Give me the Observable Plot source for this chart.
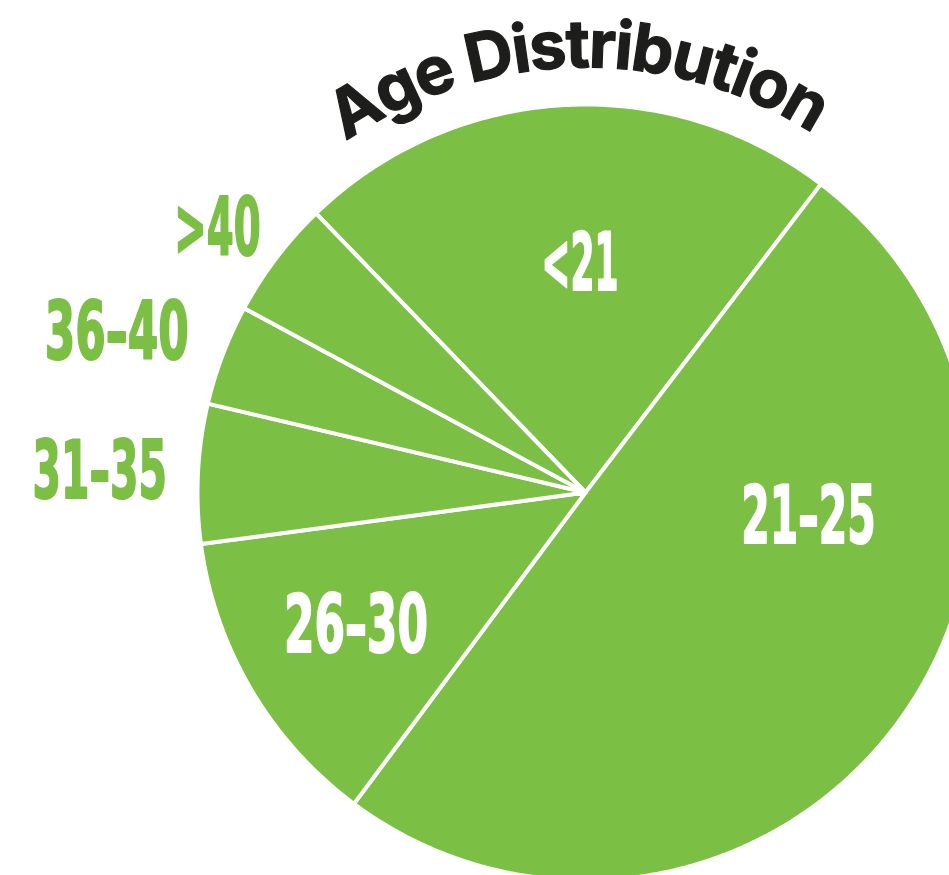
<!DOCTYPE html>
<html>
<head>
<meta charset="utf-8">
<script src="https://cdn.jsdelivr.net/npm/d3@7"></script>
<script src="https://cdn.jsdelivr.net/npm/@observablehq/plot@0.6"></script>
<style>
  html, body { margin: 0; padding: 0; background: #fff; }
  #chart svg { display: block; }
</style>
</head>
<body>
<div id="chart"></div>
<script>
// ---------- data ----------
const categories = ["<21", "21–25", "26–30", "31–35", "36–40", ">40"];
const shares = [22.6, 49.8, 12.7, 5.8, 4.2, 4.9];           // percent
const labelPlacement = ["inside", "inside", "inside", "outside", "outside", "outside"];
const title = "Age Distribution";

// ---------- layout / style ----------
const W = 949, H = 875;
const cx = 585, cy = 492, R = 388;                 // pie centre & radius in px
const green = "#7bbf44";
const ink = "#1d1d1b";
const startDeg = -44;                              // first slice boundary (clockwise from 12 o'clock)
const labelSize = 80;
const labelFont = `"Liberation Sans Narrow", "DejaVu Sans Condensed", "Liberation Sans", sans-serif`;
const glyphAdvance = {"1": 0.24};                  // em advances of the condensed display face
const defaultAdvance = 0.36;
// nudges (px) for label anchors, relative to slice mid-angle placement
const labelNudge = [[8, 4], [37, -115], [-29, 16], [0, 0], [-5, -10], [9, -10]];
const titleSize = 66;
const titleFont = `Inter, "DejaVu Sans", sans-serif`;
const titleRadiusPx = 425, titleFromDeg = -34.3, titleToDeg = 32.4;

const xDomain = [-cx / R, (W - cx) / R];
const yDomain = [-(H - cy) / R, cy / R];

// ---------- pie geometry (unit circle, y up) ----------
const a0 = startDeg * Math.PI / 180;
const arcs = d3.pie().sort(null).startAngle(a0).endAngle(a0 + 2 * Math.PI)(shares);

const slicePts = [];
arcs.forEach((a, i) => {
  const n = Math.max(2, Math.ceil((a.endAngle - a.startAngle) / (Math.PI / 360)));
  slicePts.push({cat: categories[i], x: 0, y: 0});
  for (let k = 0; k <= n; k++) {
    const t = a.startAngle + (a.endAngle - a.startAngle) * k / n;
    slicePts.push({cat: categories[i], x: Math.sin(t), y: Math.cos(t)});
  }
  slicePts.push({cat: categories[i], x: 0, y: 0});
});

const labels = arcs.map((a, i) => {
  const mid = (a.startAngle + a.endAngle) / 2;
  const r = labelPlacement[i] === "inside" ? 0.6 : 1.08;
  return {
    cat: categories[i],
    place: labelPlacement[i],
    x: r * Math.sin(mid) + labelNudge[i][0] / R,
    y: r * Math.cos(mid) - labelNudge[i][1] / R
  };
});

// ---------- curved title letters ----------
const ctx = document.createElement("canvas").getContext("2d");
ctx.font = `700 ${titleSize}px ${titleFont}`;
const chars = [...title];
const widths = chars.map(c => ctx.measureText(c).width);
const arcLen = (titleToDeg - titleFromDeg) * Math.PI / 180 * titleRadiusPx;
const spacing = (arcLen - d3.sum(widths)) / (chars.length - 1);
let s = 0;
const titleLetters = chars.map((c, i) => {
  const sc = s + widths[i] / 2;
  s += widths[i] + spacing;
  const th = titleFromDeg * Math.PI / 180 + sc / titleRadiusPx;
  const rb = titleRadiusPx / R;
  return {ch: c, x: rb * Math.sin(th), y: rb * Math.cos(th), rot: th * 180 / Math.PI};
});

// ---------- plot ----------
const chart = Plot.plot({
  width: W,
  height: H,
  margin: 0,
  x: {domain: xDomain, axis: null},
  y: {domain: yDomain, axis: null},
  style: {background: "#fff", overflow: "visible"},
  marks: [
    Plot.line(slicePts, {
      x: "x", y: "y", z: "cat",
      fill: green, stroke: "#fff", strokeWidth: 4, strokeLinejoin: "round"
    }),
    Plot.text(labels.filter(d => d.place === "inside"), {
      x: "x", y: "y", text: "cat",
      textAnchor: "middle", lineAnchor: "middle",
      fill: "#fff", stroke: "#fff", strokeWidth: 2,
      fontSize: labelSize, fontWeight: 700, fontFamily: labelFont
    }),
    Plot.text(labels.filter(d => d.place === "outside"), {
      x: "x", y: "y", text: "cat",
      textAnchor: "end", lineAnchor: "middle",
      fill: green, stroke: green, strokeWidth: 2,
      fontSize: labelSize, fontWeight: 700, fontFamily: labelFont
    }),
    Plot.text(titleLetters, {
      x: "x", y: "y", text: "ch", rotate: "rot",
      textAnchor: "middle", lineAnchor: "bottom",
      fill: ink, stroke: ink, strokeWidth: 1.2,
      fontSize: titleSize, fontWeight: 700, fontFamily: titleFont
    })
  ]
});

// condense the display labels to the narrow poster face
const catSet = new Set(categories);
d3.select(chart).selectAll("text").each(function () {
  const t = this.textContent;
  if (!catSet.has(t)) return;
  const L = [...t].reduce((acc, c) => acc + (glyphAdvance[c] ?? defaultAdvance), 0) * labelSize;
  this.setAttribute("textLength", L);
  this.setAttribute("lengthAdjust", "spacingAndGlyphs");
});

document.getElementById("chart").appendChild(chart);
</script>
</body>
</html>
